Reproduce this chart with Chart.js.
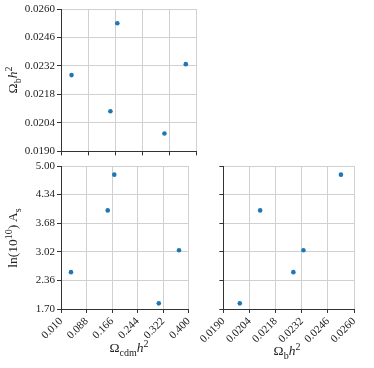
<!DOCTYPE html>
<html>
<head>
<meta charset="utf-8">
<script src="https://cdn.jsdelivr.net/npm/chart.js@4/dist/chart.umd.min.js"></script>
<style>
  body { margin: 0; background: #fff; }
  #wrap { position: relative; width: 374px; height: 368px; overflow: hidden; font-family: "Liberation Serif", serif; color: #222; }
  canvas { position: absolute; }
  .lbl { position: absolute; font-size: 13.5px; white-space: nowrap; line-height: 1; }
  .lbl sub, .lbl sup { font-size: 10px; line-height: 0; }
  .rot { transform: translate(-50%, -50%) rotate(-90deg); }
  .hor { transform: translate(-50%, -50%); }
</style>
</head>
<body>
<div id="wrap">
  <canvas id="c1"></canvas>
  <canvas id="c2"></canvas>
  <canvas id="c3"></canvas>
  <div class="lbl rot" style="left:13px; top:80px;">&Omega;<sub>b</sub><i>h</i><sup>2</sup></div>
  <div class="lbl rot" style="left:13px; top:238px;">ln(10<sup>10</sup>)&thinsp;A<sub>s</sub></div>
  <div class="lbl hor" style="left:129px; top:348px;">&Omega;<sub>cdm</sub><i>h</i><sup>2</sup></div>
  <div class="lbl hor" style="left:287px; top:351px;">&Omega;<sub>b</sub><i>h</i><sup>2</sup></div>
</div>
<script>
// samples
const omegaCdm = [0.0405, 0.1727, 0.1527, 0.3088, 0.3705];
const omegaB = [0.02275, 0.0253, 0.02097, 0.01988, 0.02329];
const lnAs = [2.55, 4.80, 3.975, 1.83, 3.056];

// tick labels
const cdmTicks = ['0.010', '0.088', '0.166', '0.244', '0.322', '0.400'];
const obTicks = ['0.0190', '0.0204', '0.0218', '0.0232', '0.0246', '0.0260'];
const asTicks = ['1.70', '2.36', '3.02', '3.68', '4.34', '5.00'];

const blue = '#1f77b4';
const gridCol = '#d0d0d0';
const axisCol = '#333';
const tickFont = { family: 'Liberation Serif', size: 11 };

function pts(xs, ys) {
  return xs.map((x, i) => ({ x: x, y: ys[i] }));
}

function axis(tickArr, showLabels, rotate, fitSize, isX) {
  const vals = tickArr.map(Number);
  return {
    type: 'linear',
    min: vals[0],
    max: vals[vals.length - 1],
    afterBuildTicks: (s) => { s.ticks = vals.map(v => ({ value: v })); },
    afterFit: (s) => { if (isX) s.height = fitSize; else s.width = fitSize; },
    grid: { color: gridCol, lineWidth: 1, tickColor: axisCol, tickLength: 4 },
    border: { color: axisCol, width: 1 },
    ticks: {
      display: showLabels,
      color: '#222',
      font: tickFont,
      padding: 2,
      autoSkip: false,
      maxRotation: rotate,
      minRotation: rotate,
      callback: (v) => {
        const i = vals.findIndex(t => Math.abs(t - v) < 1e-9);
        return i >= 0 ? tickArr[i] : '';
      }
    }
  };
}

function makePanel(id, left, top, w, h, pad, data, xs, ys) {
  const el = document.getElementById(id);
  el.style.left = left + 'px';
  el.style.top = top + 'px';
  el.style.width = w + 'px';
  el.style.height = h + 'px';
  el.width = w;
  el.height = h;
  new Chart(el.getContext('2d'), {
    type: 'scatter',
    data: {
      datasets: [{
        data: data,
        backgroundColor: blue,
        borderColor: blue,
        pointRadius: 2.3,
        pointBorderWidth: 0
      }]
    },
    options: {
      responsive: false,
      animation: false,
      layout: { padding: pad },
      plugins: { legend: { display: false }, tooltip: { enabled: false } },
      scales: { x: xs, y: ys }
    }
  });
}

// top-left: cdm vs omega_b
makePanel('c1', 0, 0, 200, 160, { top: 9, right: 3, left: 0, bottom: 0 },
  pts(omegaCdm, omegaB),
  axis(cdmTicks, false, 0, 8, true),
  axis(obTicks, true, 0, 61, false));

// bottom-left: cdm vs lnAs
makePanel('c2', 0, 150, 200, 218, { top: 16, right: 3, left: 0, bottom: 0 },
  pts(omegaCdm, lnAs),
  axis(cdmTicks, true, 45, 59, true),
  axis(asTicks, true, 0, 61, false));

// bottom-right: omega_b vs lnAs
makePanel('c3', 200, 150, 174, 218, { top: 16, right: 20, left: 0, bottom: 0 },
  pts(omegaB, lnAs),
  axis(obTicks, true, 45, 59, true),
  axis(asTicks, false, 0, 19, false));
</script>
</body>
</html>
